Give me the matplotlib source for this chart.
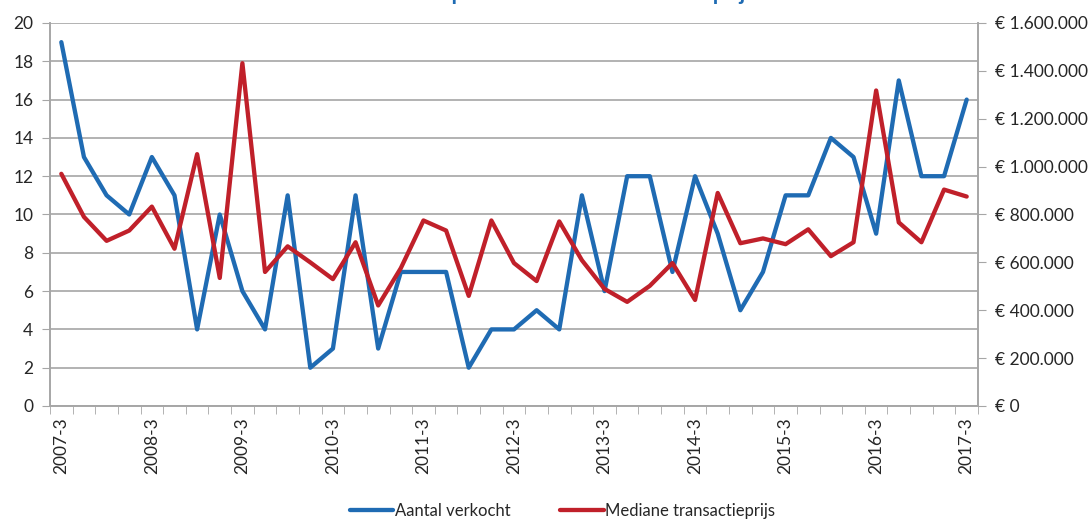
import matplotlib
matplotlib.use("Agg")
import matplotlib.pyplot as plt
from matplotlib.ticker import FuncFormatter, MultipleLocator

plt.rcParams["font.family"] = ["Lato", "DejaVu Sans"]

# quarters 2007-3 .. 2017-3
years = list(range(2007, 2018))
quarters = [f"{y}-{q}" for y in years for q in (1, 2, 3, 4)]
quarters = quarters[2:2 + 41]

aantal = [19, 13, 11, 10, 13, 11, 4, 10, 6, 4, 11, 2, 3, 11, 3, 7, 7, 7, 2, 4,
          4, 5, 4, 11, 6, 12, 12, 7, 12, 9, 5, 7, 11, 11, 14, 13, 9, 17, 12, 12, 16]
mediane = [970000, 790000, 690000, 733000, 833000, 657000, 1052000, 535000,
           1432000, 560000, 667000, 600000, 530000, 684000, 420000, 576000,
           775000, 733000, 460000, 775000, 597000, 522000, 771000, 609000,
           489000, 435000, 502000, 597000, 443000, 890000, 680000, 700000,
           676000, 738000, 626000, 684000, 1318000, 767000, 684000, 904000, 875000]

title = "Aantal verkopen en mediane transactieprijs"
blue = "#1F6BB3"
red = "#C0202A"
grid = "#A6A6A6"
txt = "#262626"

fig = plt.figure(figsize=(10.92, 5.21), dpi=100)
ax = fig.add_axes([50 / 1092, 1 - 406 / 521, 928 / 1092, 383 / 521])
ax2 = ax.twinx()

x = list(range(len(quarters)))
l1, = ax.plot(x, aantal, color=blue, lw=3.1, solid_joinstyle="round",
              solid_capstyle="round", label="Aantal verkocht", zorder=3)
l2, = ax2.plot(x, mediane, color=red, lw=3.1, solid_joinstyle="round",
               solid_capstyle="round", label="Mediane transactieprijs", zorder=3)

ax.set_xlim(-0.5, len(quarters) - 0.5)
ax.set_ylim(0, 20)
ax2.set_ylim(0, 1600000)
ax.yaxis.set_major_locator(MultipleLocator(2))
ax2.yaxis.set_major_locator(MultipleLocator(200000))
ax2.yaxis.set_major_formatter(
    FuncFormatter(lambda v, p: "€ " + f"{int(v):,}".replace(",", ".")))

ax.set_xticks(x[::4])
ax.set_xticklabels(quarters[::4], rotation=90)
ax.set_xticks([i - 0.5 for i in range(len(quarters) + 1)], minor=True)
ax.tick_params(axis="x", which="major", length=0, pad=8)
ax.tick_params(axis="x", which="minor", length=6, color=grid, direction="out")
ax.tick_params(axis="y", length=6, color=grid, pad=6)
ax2.tick_params(axis="y", length=6, color=grid, pad=6)
for a in (ax, ax2):
    a.tick_params(labelsize=12.5, labelcolor=txt)

ax.grid(axis="y", color=grid, lw=1.2, zorder=0)
ax.set_axisbelow(True)
for a in (ax, ax2):
    a.spines["top"].set_visible(False)
    for s in ("left", "right", "bottom"):
        a.spines[s].set_color(grid)
        a.spines[s].set_linewidth(1.2)

# the title sits mostly above the visible area, as in the source image
fig.text(540 / 1092, 1.0, title, ha="center", va="baseline", color=blue,
         fontsize=16, fontweight="bold")

fig.legend(handles=[l1, l2], loc="center", bbox_to_anchor=(0.515, 1 - 511 / 521),
           ncol=2, frameon=False, fontsize=12, handlelength=2.6,
           handletextpad=0.1, columnspacing=3.0, labelcolor=txt)

fig.savefig("out.png", dpi=100)
